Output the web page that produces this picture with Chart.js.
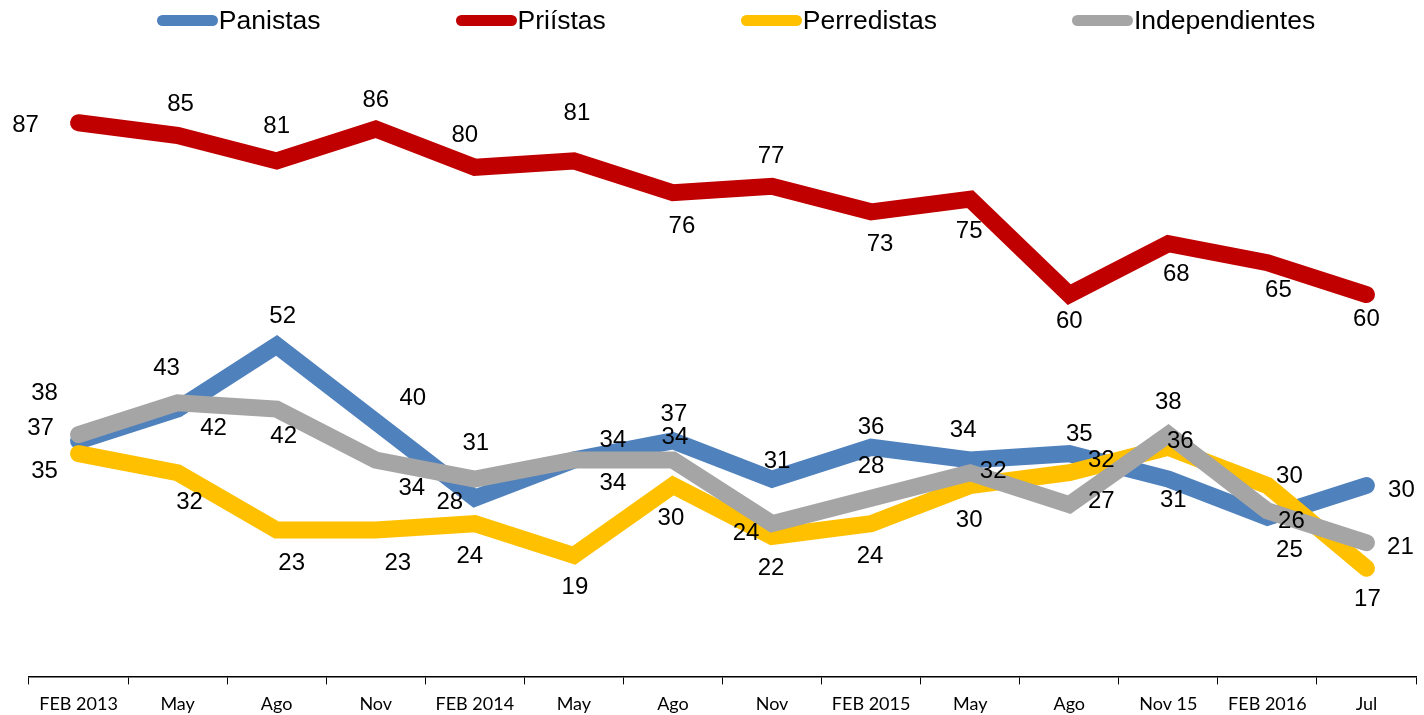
<!DOCTYPE html>
<html>
<head>
<meta charset="utf-8">
<script src="https://cdn.jsdelivr.net/npm/chart.js@4"></script>
<style>
  body { margin: 0; background: #fff; }
  #wrap { position: relative; width: 1424px; height: 715px; }
  #myChart { position: absolute; left: 0; top: 0; }
  #legend {
    position: absolute; left: 24px; top: 5px; width: 1424px;
    display: flex; justify-content: center; gap: 135px;
    font-family: "Liberation Sans", Arial, sans-serif; font-size: 26.5px; color: #000;
  }
  #legend .item { display: flex; align-items: center; gap: 1px; }
  #legend .sw { width: 61px; height: 11px; border-radius: 6px; }
</style>
</head>
<body>
<div id="wrap">
  <canvas id="myChart" width="1424" height="715"></canvas>
  <div id="legend"></div>
</div>
<script>
// categories
const months = ["FEB 2013", "May", "Ago", "Nov", "FEB 2014", "May", "Ago", "Nov",
  "FEB 2015", "May", "Ago", "Nov 15", "FEB 2016", "Jul"];

// series values
const panistas = [37, 42, 52, 40, 28, 34, 37, 31, 36, 34, 35, 31, 25, 30];
const priistas = [87, 85, 81, 86, 80, 81, 76, 77, 73, 75, 60, 68, 65, 60];
const perredistas = [35, 32, 23, 23, 24, 19, 30, 22, 24, 30, 32, 36, 30, 17];
const independientes = [38, 43, 42, 34, 31, 34, 34, 24, 28, 32, 27, 38, 26, 21];

// where each value label sits relative to its point [dx, dy]
const offPan = [[-38,-13],[36,19],[6,-29],[37,-23],[-25,4],[39,-20],[1,-27],[5,-18],[0,-20],[-7,-30],[10,-19],[5,21],[22,33],[35,5]];
const offPri = [[-53,3],[3,-31],[0,-35],[0,-29],[-10,-32],[3,-48],[9,34],[-1,-30],[9,33],[-1,32],[0,27],[8,31],[11,28],[0,25]];
const offPer = [[-34,18],[12,30],[15,33],[22,33],[-5,33],[1,32],[-2,33],[-1,32],[-1,33],[-1,35],[32,-12],[12,-6],[22,-9],[1,31]];
const offInd = [[-34,-41],[-11,-34],[7,27],[36,28],[1,-36],[39,23],[2,-23],[-26,10],[0,-32],[23,-1],[32,-3],[0,-32],[24,10],[34,5]];

const series = [
  { label: "Panistas", data: panistas, color: "#4F81BD", off: offPan, order: 4 },
  { label: "Priístas", data: priistas, color: "#C00000", off: offPri, order: 3 },
  { label: "Perredistas", data: perredistas, color: "#FFC000", off: offPer, order: 2 },
  { label: "Independientes", data: independientes, color: "#A5A5A5", off: offInd, order: 1 },
];

// legend
const legendBox = document.getElementById("legend");
series.forEach((s) => {
  const item = document.createElement("div");
  item.className = "item";
  const sw = document.createElement("span");
  sw.className = "sw";
  sw.style.background = s.color;
  const txt = document.createElement("span");
  txt.textContent = s.label;
  item.append(sw, txt);
  legendBox.appendChild(item);
});

// value labels next to each point
const valueLabels = {
  id: "valueLabels",
  afterDatasetsDraw(chart) {
    const ctx = chart.ctx;
    ctx.save();
    ctx.font = '24px "Liberation Sans", Arial, sans-serif';
    ctx.fillStyle = "#000";
    ctx.textAlign = "center";
    ctx.textBaseline = "middle";
    chart.data.datasets.forEach((ds, di) => {
      const meta = chart.getDatasetMeta(di);
      meta.data.forEach((pt, i) => {
        const o = series[di].off[i];
        ctx.fillText(String(ds.data[i]), pt.x + o[0], pt.y + o[1]);
      });
    });
    ctx.restore();
  },
};

new Chart(document.getElementById("myChart"), {
  type: "line",
  data: {
    labels: months,
    datasets: series.map((s) => ({
      label: s.label,
      data: s.data,
      borderColor: s.color,
      backgroundColor: s.color,
      borderWidth: 17,
      borderCapStyle: "round",
      pointRadius: 0,
      tension: 0,
      order: s.order,
      clip: false,
    })),
  },
  options: {
    responsive: false,
    animation: false,
    layout: { padding: { top: 40, left: 29, right: 8, bottom: -9 } },
    plugins: {
      legend: { display: false },
      tooltip: { enabled: false },
    },
    scales: {
      x: {
        offset: true,
        border: { display: true, color: "#000", width: 1.5 },
        grid: { drawOnChartArea: false, drawTicks: true, tickLength: 8, color: "#000", offset: true },
        ticks: {
          color: "#000",
          padding: 9,
          maxRotation: 0,
          autoSkip: false,
          font: { family: "Lato, 'Open Sans', sans-serif", size: 18 },
        },
      },
      y: { display: false, min: 0, max: 100 },
    },
  },
  plugins: [valueLabels],
});
</script>
</body>
</html>
